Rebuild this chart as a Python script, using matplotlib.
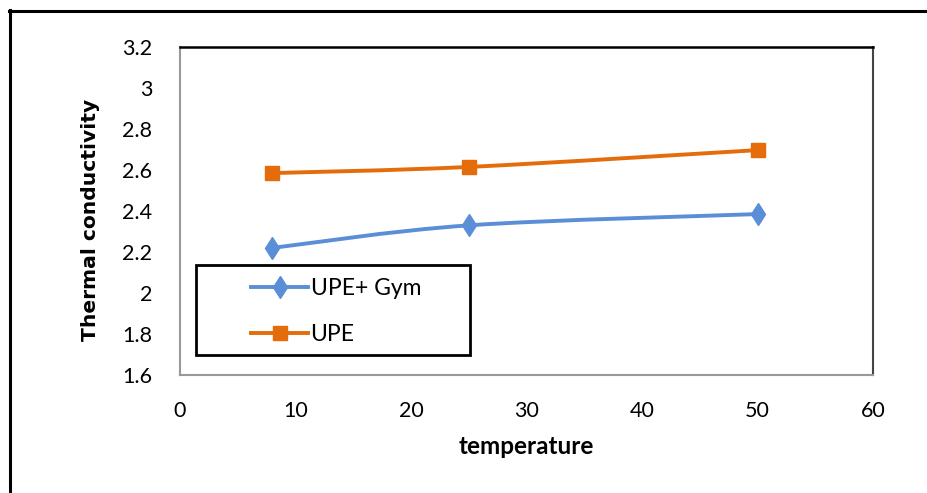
import matplotlib.pyplot as plt
from matplotlib.lines import Line2D
from matplotlib.patches import PathPatch, Rectangle
from matplotlib.path import Path

BLUE = "#5A8ED6"
ORANGE = "#E46C0A"

temperature = [8, 25, 50]
upe_gym = [2.22, 2.33, 2.385]
upe = [2.585, 2.615, 2.697]

y_ticks = [1.6, 1.8, 2.0, 2.2, 2.4, 2.6, 2.8, 3.0, 3.2]
y_labels = ["1.6", "1.8", "2", "2.2", "2.4", "2.6", "2.8", "3", "3.2"]
x_ticks = [0, 10, 20, 30, 40, 50, 60]

plt.rcParams["font.family"] = ["Lato", "DejaVu Sans"]


def smooth_path(xs, ys):
    # Excel-style smoothed line: Catmull-Rom segments drawn as cubic Beziers
    pts = list(zip(xs, ys))
    verts = [pts[0]]
    codes = [Path.MOVETO]
    for i in range(len(pts) - 1):
        p0 = pts[i - 1] if i > 0 else pts[i]
        p1 = pts[i]
        p2 = pts[i + 1]
        p3 = pts[i + 2] if i + 2 < len(pts) else pts[i + 1]
        c1 = (p1[0] + (p2[0] - p0[0]) / 6, p1[1] + (p2[1] - p0[1]) / 6)
        c2 = (p2[0] - (p3[0] - p1[0]) / 6, p2[1] - (p3[1] - p1[1]) / 6)
        verts += [c1, c2, p2]
        codes += [Path.CURVE4] * 3
    return Path(verts, codes)


fig = plt.figure(figsize=(9.27, 4.93), dpi=100)
ax = fig.add_axes([180 / 927, 118 / 493, 693 / 927, 328 / 493])

for ys, color, marker, ms in [(upe_gym, BLUE, "d", 11.5), (upe, ORANGE, "s", 10)]:
    ax.add_patch(PathPatch(smooth_path(temperature, ys), fill=False, edgecolor=color, lw=2.8, capstyle="round"))
    ax.plot(temperature, ys, ls="none", marker=marker, ms=ms, color=color, mec=color)

ax.set_xlim(0, 60)
ax.set_ylim(1.6, 3.2)
ax.set_xticks(x_ticks)
ax.set_yticks(y_ticks, y_labels)
ax.tick_params(length=0, labelsize=15.5, colors="black")
ax.tick_params(axis="y", pad=20)
ax.tick_params(axis="x", pad=19)

ax.spines["top"].set_color("black")
ax.spines["top"].set_linewidth(1.8)
ax.spines["right"].set_color("#444444")
ax.spines["right"].set_linewidth(1.5)
ax.spines["left"].set_color("#999999")
ax.spines["left"].set_linewidth(1.5)
ax.spines["bottom"].set_color("#999999")
ax.spines["bottom"].set_linewidth(1.5)

ax.set_xlabel("temperature", fontsize=17.5, fontweight="bold", labelpad=10)
ax.set_ylabel("Thermal conductivity", fontsize=14.6, fontweight="bold", family="DejaVu Sans")
ax.yaxis.set_label_coords(-0.115, 0.473)

# legend with a plain black box around it
ax.add_patch(Rectangle((16 / 693, 20 / 328), 274 / 693, 90 / 328, transform=ax.transAxes,
                       fill=False, edgecolor="black", lw=2, zorder=5))
handles = [
    Line2D([], [], color=BLUE, lw=2.8, marker="d", ms=11.5),
    Line2D([], [], color=ORANGE, lw=2.8, marker="s", ms=10),
]
ax.legend(handles, ["UPE+ Gym", "UPE"], loc="upper left", bbox_to_anchor=(71 / 693, 97 / 328),
          frameon=False, fontsize=16.5, handlelength=2.5, handletextpad=0.1,
          labelspacing=1.1, borderpad=0, borderaxespad=0)

# outer frame of the figure (right and bottom edges fall outside the crop)
fig.add_artist(Line2D([9 / 927, 1], [1 - 10.5 / 493] * 2, color="black", lw=2.2, transform=fig.transFigure))
fig.add_artist(Line2D([10 / 927] * 2, [0, 1 - 9.5 / 493], color="black", lw=2.2, transform=fig.transFigure))

fig.savefig("out.png", dpi=100)
